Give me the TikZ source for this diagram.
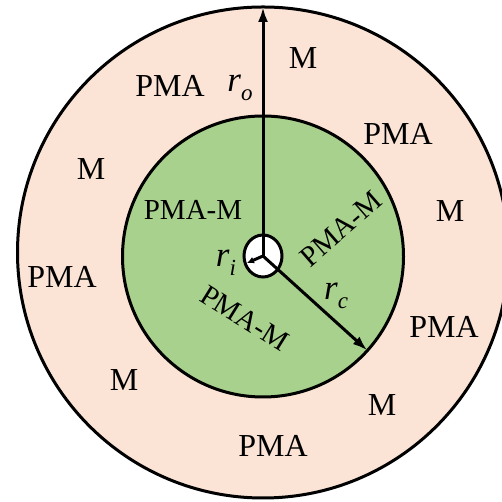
\documentclass[tikz,border=0pt]{standalone}
\usepackage{fontspec}
\setmainfont{Liberation Serif}
\usetikzlibrary{positioning,calc,arrows.meta}
\definecolor{ink}{HTML}{000000}
\definecolor{peach}{HTML}{FBE4D6}
\definecolor{leaf}{HTML}{A9D18E}
\newcommand{\radlab}[1]{\textit{r}\raisebox{-0.25em}{\fontsize{23}{26}\selectfont\textit{#1}}}

\begin{document}
\begin{tikzpicture}[x=1pt,y=1pt,
  zone/.style={inner sep=0pt,font=\fontsize{32}{36}\selectfont},
  core/.style={inner sep=0pt,font=\fontsize{29}{33}\selectfont},
  radlbl/.style={inner sep=0pt,font=\fontsize{35}{38}\selectfont},
  dim/.style={ink,line width=3pt,-{Latex[length=15pt,width=10pt]}},
  smalldim/.style={ink,line width=3pt,-{Latex[length=7pt,width=7pt]}}]

  % Frame of the page
  \useasboundingbox (0,0) rectangle (502,502);
  \clip (0,0) rectangle (502,502);

  % ---------------------------------------------------------------- RINGS
  \coordinate (outer) at (263,249.5);
  \coordinate (inner) at (263,245.5);
  \coordinate (hub) at (263,246);
  \fill[peach] (outer) circle (245.5);
  \draw[ink,line width=3pt] (outer) circle (245.5);
  \fill[leaf] (inner) circle (140.5);
  \draw[ink,line width=3pt] (inner) circle (140.5);
  \fill[white] (hub) ellipse (19 and 21);
  \draw[ink,line width=3pt] (hub) ellipse (19 and 21);

  % ---------------------------------------------------------------- RADII
  \coordinate (rotip) at (263,495);
  \coordinate (rctip) at ($(inner)+(-42:140.5)$);
  \coordinate (ritip) at (247,239);
  \draw[dim] (hub) -- (rotip);
  \draw[dim] (hub) -- (rctip);
  \draw[smalldim] (hub) -- (ritip);

  \node[radlbl] (ro) at (240,414) {\radlab{o}};
  \node[radlbl] (rc) at (336,206) {\radlab{c}};
  \node[radlbl] (ri) at (226,239) {\radlab{i}};

  % ---------------------------------------------------------------- OUTER RING
  \node[zone] (m1) at (303,444) {M};
  \node[zone] (p1) at (170,416) {PMA};
  \node[zone] (p2) at (398,368) {PMA};
  \node[zone] (m2) at (91,333) {M};
  \node[zone] (m3) at (450,291) {M};
  \node[zone] (p3) at (62,225) {PMA};
  \node[zone] (p4) at (444,175) {PMA};
  \node[zone] (m4) at (124,122) {M};
  \node[zone] (m5) at (382,97) {M};
  \node[zone] (p5) at (273,56) {PMA};

  % ---------------------------------------------------------------- CORE
  \node[core] (c1) at (193,292) {PMA-M};
  \node[core,rotate=41] (c2) at (341,273) {PMA-M};
  \node[core,rotate=-32] (c3) at (245,184) {PMA-M};

\end{tikzpicture}
\end{document}
